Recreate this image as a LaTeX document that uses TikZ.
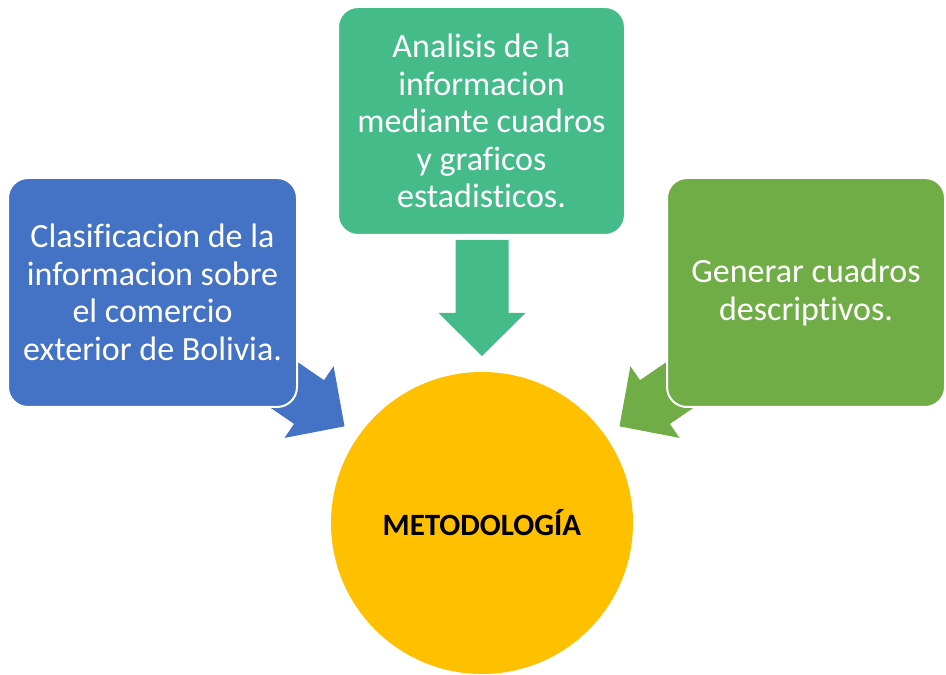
\documentclass[tikz,border=0pt]{standalone}
\usepackage{fontspec}
\setmainfont[Ligatures={NoCommon,NoContextual}]{Carlito}
\definecolor{cblue}{HTML}{4472C4}
\definecolor{cteal}{HTML}{45BB8A}
\definecolor{cgreen}{HTML}{70AD47}
\definecolor{cgold}{HTML}{FFC000}
\tikzset{
  box/.style={rounded corners=20pt, draw=white, line width=2pt, text=white,
    align=center, inner sep=0pt, font=\fontsize{34}{37.5}\selectfont},
  blockarrow/.pic={\fill[pic actions] (0,-26.5)--(73,-26.5)--(73,-43.5)--(116,0)--(73,43.5)--(73,26.5)--(0,26.5)--cycle;}
}
\begin{document}
\begin{tikzpicture}[x=1pt,y=1pt]
\useasboundingbox (0,0) rectangle (946,675);
% arrows (drawn beneath boxes)
\coordinate (ta) at (248.8,314.2);
\coordinate (tb) at (482,435);
\coordinate (tc) at (715.2,314.2);
\pic[rotate=-34.4, fill=cblue] at (ta) {blockarrow};
\pic[rotate=-90, fill=cteal] at (tb) {blockarrow};
\pic[rotate=-145.6, fill=cgreen] at (tc) {blockarrow};
% boxes
\node[box, fill=cblue, minimum width=289pt, minimum height=229pt] (b1) at (152.5,382.5)
  {Clasificacion de la\\informacion sobre\\el comercio\\exterior de Bolivia.};
\node[box, fill=cteal, minimum width=287pt, minimum height=228pt] (b2) at (481.5,554)
  {Analisis de la\\informacion\\mediante cuadros\\y graficos\\estadisticos.};
\node[box, fill=cgreen, minimum width=278pt, minimum height=229pt] (b3) at (806,382.5)
  {Generar cuadros\\descriptivos.};
% circle
\node[circle, fill=cgold, minimum size=302pt, inner sep=0pt,
  font=\fontsize{31}{36}\selectfont\bfseries] (c) at (482,152) {METODOLOGÍA};
\end{tikzpicture}
\end{document}
